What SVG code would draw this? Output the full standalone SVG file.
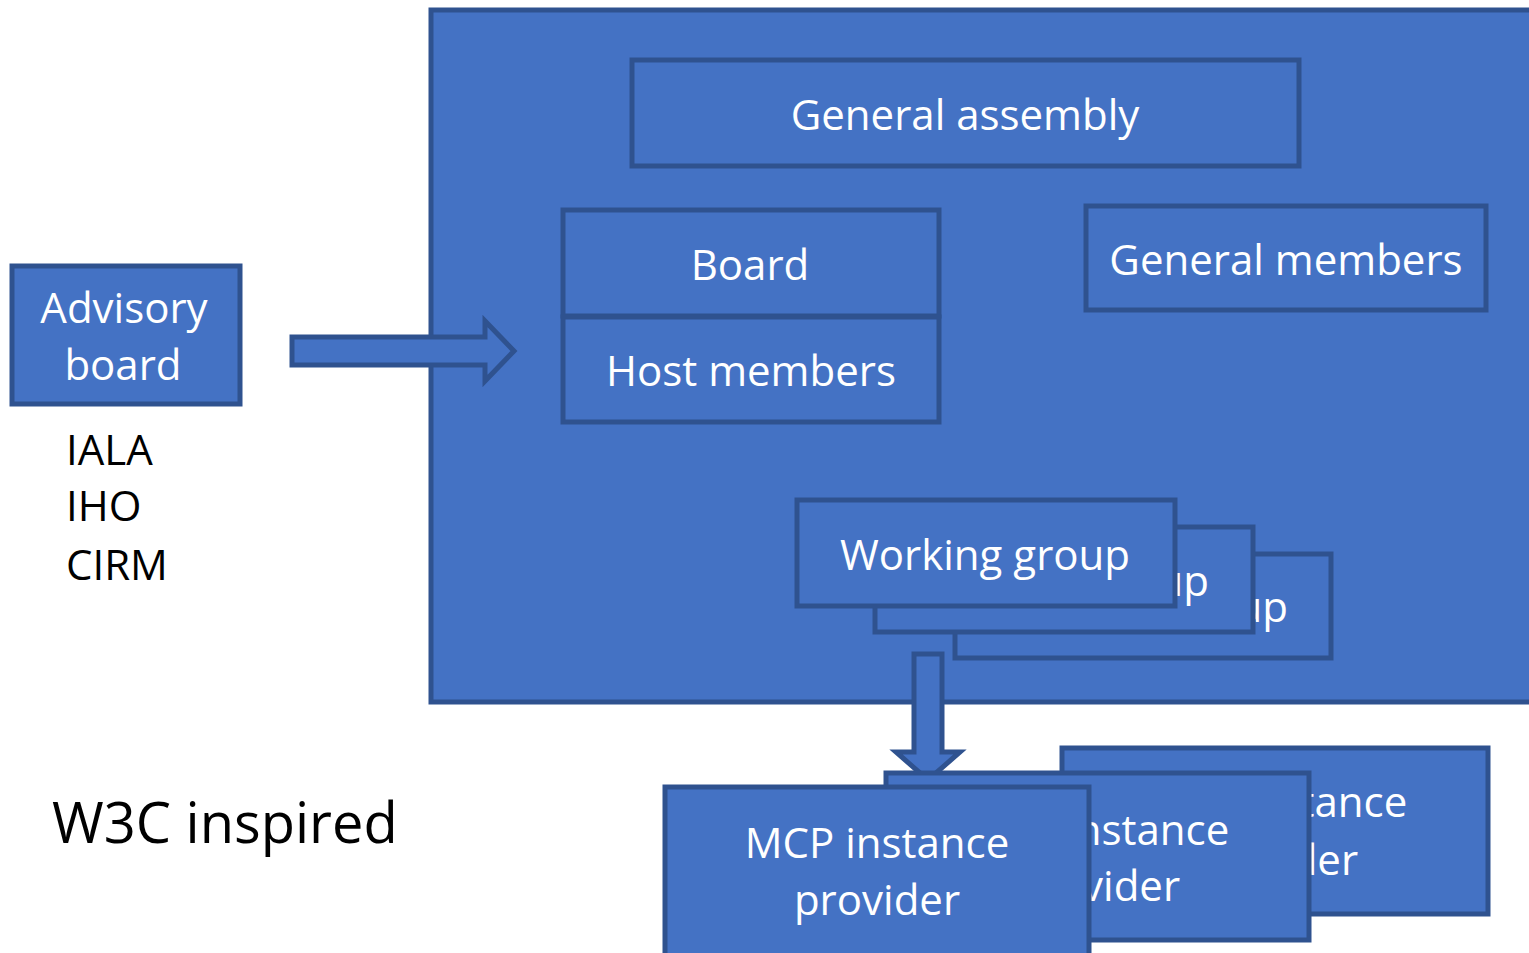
<svg xmlns="http://www.w3.org/2000/svg" width="1529" height="953" viewBox="0 0 1529 953">
<style>
.b{fill:#4472C4;stroke:#2F528F;stroke-width:5}
.t{fill:#fff;font-family:"Open Sans",sans-serif;font-size:42px;text-anchor:middle}
.k{fill:#000;font-family:"Open Sans",sans-serif;font-size:42px}
</style>
<rect width="1529" height="953" fill="#fff"/>
<g id="organisation"><rect class="b" x="431" y="10" width="1110" height="692"/></g>
<g id="connectors">
<path class="b" d="M292,337 H485 V321 L514,351 L485,381 V365 H292 Z"/>
<path class="b" d="M914,654 H942 V752 H960 L928,780 L896,752 H914 Z"/>
</g>
<g id="general-assembly"><rect class="b" x="632" y="60" width="667" height="106"/><text class="t" x="965" y="130">General assembly</text></g>
<g id="board"><rect class="b" x="563" y="210" width="376" height="106"/><text class="t" x="750" y="280">Board</text></g>
<g id="host-members"><rect class="b" x="563" y="317" width="376" height="105"/><text class="t" x="751" y="386">Host members</text></g>
<g id="general-members"><rect class="b" x="1086" y="206" width="400" height="104"/><text class="t" x="1286" y="275">General members</text></g>
<g id="working-group-3"><rect class="b" x="955" y="554" width="376" height="104"/><text class="t" x="1143" y="622">Working group</text></g>
<g id="working-group-2"><rect class="b" x="875" y="527" width="378" height="105"/><text class="t" x="1064" y="596">Working group</text></g>
<g id="working-group-1"><rect class="b" x="797" y="500" width="378" height="106"/><text class="t" x="985" y="570">Working group</text></g>
<g id="advisory-board"><rect class="b" x="12" y="266" width="228" height="138"/><text class="t" x="124" y="323">Advisory</text><text class="t" x="123" y="380">board</text></g>
<g id="members-list"><text class="k" x="66" y="465">IALA</text><text class="k" x="66" y="521">IHO</text><text class="k" x="66" y="580">CIRM</text></g>
<g id="mcp-provider-3"><rect class="b" x="1062" y="748" width="426" height="166"/><text class="t" x="1275" y="817">MCP instance</text><text class="t" x="1275" y="875">provider</text></g>
<g id="mcp-provider-2"><rect class="b" x="886" y="773" width="423" height="167"/><text class="t" x="1097" y="845">MCP instance</text><text class="t" x="1097" y="901">provider</text></g>
<g id="mcp-provider-1"><rect class="b" x="665" y="787" width="424" height="180"/><text class="t" x="877" y="858">MCP instance</text><text class="t" x="877" y="915">provider</text></g>
<text class="k" x="52" y="843" style="font-size:56px">W3C inspired</text>
</svg>
